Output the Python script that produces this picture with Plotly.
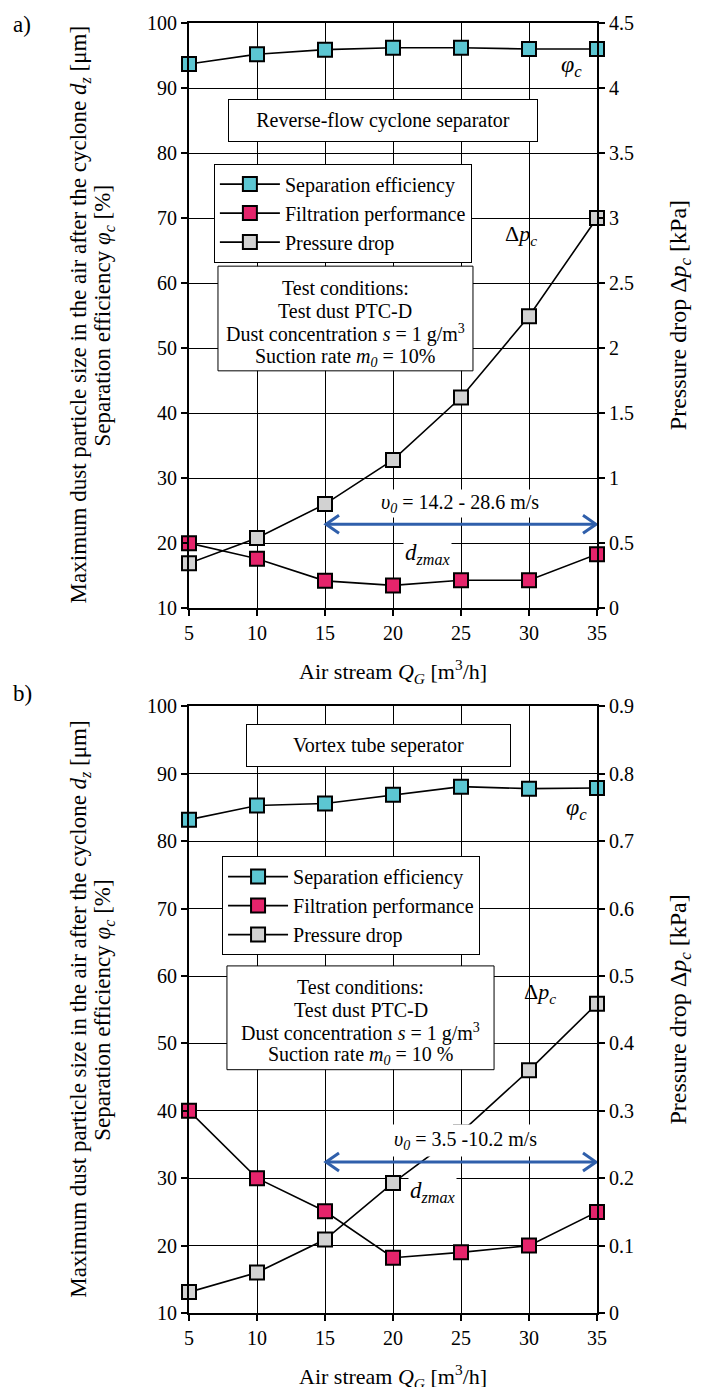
import plotly.graph_objects as go

# ---------------- data ----------------
air_stream = [5, 10, 15, 20, 25, 30, 35]

# panel a) reverse-flow cyclone separator
sep_eff_a = [93.7, 95.2, 95.9, 96.2, 96.2, 96.0, 96.0]
filt_perf_a = [20.0, 17.6, 14.2, 13.5, 14.3, 14.3, 18.3]
press_drop_a = [0.345, 0.54, 0.80, 1.14, 1.62, 2.245, 3.0]

# panel b) vortex tube separator
sep_eff_b = [83.2, 85.3, 85.6, 86.9, 88.1, 87.8, 87.9]
filt_perf_b = [40.0, 30.0, 25.1, 18.2, 19.0, 20.0, 25.0]
press_drop_b = [0.031, 0.060, 0.109, 0.193, 0.268, 0.360, 0.459]

series_names = ["Separation efficiency", "Filtration performance", "Pressure drop"]
series_colors = ["#5cc6d2", "#e5246b", "#d2d2d2"]

left_ticks = list(range(10, 101, 10))

conditions_a = ["Test conditions:", "Test dust PTC-D",
                "Dust concentration <i>s</i> = 1 g/m<sup>3</sup>",
                "Suction rate <i>m<sub>0</sub></i> = 10%"]
conditions_b = ["Test conditions:", "Test dust PTC-D",
                "Dust concentration <i>s</i> = 1 g/m<sup>3</sup>",
                "Suction rate <i>m<sub>0</sub></i> = 10 %"]

FONT = "Times New Roman, Liberation Serif, DejaVu Serif, serif"
BLUE = "#2f5fab"

fig = go.Figure()


def add_panel(sep, filt, press, xa, yl, yr, legend, grp):
    vals = [(sep, yl), (filt, yl), (press, yr)]
    for i, (v, ya) in enumerate(vals):
        fig.add_trace(go.Scatter(
            x=air_stream, y=v, name=series_names[i], mode="lines+markers",
            xaxis=xa, yaxis=ya, legend=legend, legendgroup=grp + str(i),
            line=dict(color="black", width=1.6),
            marker=dict(symbol="square", size=14, color=series_colors[i],
                        line=dict(color="black", width=2)),
            cliponaxis=False,
        ))


add_panel(sep_eff_a, filt_perf_a, press_drop_a, "x", "y", "y2", "legend", "a")
add_panel(sep_eff_b, filt_perf_b, press_drop_b, "x2", "y3", "y4", "legend2", "b")

tickfont = dict(family=FONT, size=20, color="black")

xcommon = dict(range=[5, 35], tickvals=air_stream, showgrid=True, gridcolor="black",
               gridwidth=1, showline=True, linecolor="black", linewidth=2, mirror=True,
               ticks="outside", ticklen=6, tickwidth=2, tickcolor="black",
               tickfont=tickfont, zeroline=False, fixedrange=True)
yleft = dict(range=[10, 100], tickvals=left_ticks, showgrid=True, gridcolor="black",
             gridwidth=1, showline=True, linecolor="black", linewidth=2,
             ticks="outside", ticklen=6, tickwidth=2, tickcolor="black",
             tickfont=tickfont, zeroline=False, fixedrange=True)
yright = dict(side="right", showgrid=False, showline=True, linecolor="black", linewidth=2,
              ticks="outside", ticklen=6, tickwidth=2, tickcolor="black",
              tickfont=tickfont, zeroline=False, fixedrange=True)

legend_style = dict(font=dict(family=FONT, size=20, color="black"), bgcolor="white",
                    bordercolor="black", borderwidth=1, tracegroupgap=0,
                    itemwidth=60,
                    xanchor="left", yanchor="top", itemclick=False)

fig.update_layout(
    width=702, height=1387,
    margin=dict(l=189, r=105, t=20, b=74),
    paper_bgcolor="white", plot_bgcolor="white",
    font=dict(family=FONT, size=20, color="black"),
    showlegend=True,
    xaxis=dict(domain=[0, 1], anchor="y", **xcommon),
    yaxis=dict(domain=[0.5464, 1], anchor="x", **yleft),
    yaxis2=dict(overlaying="y", anchor="x", range=[0, 4.5], dtick=0.5, **yright),
    xaxis2=dict(domain=[0, 1], anchor="y3", **xcommon),
    yaxis3=dict(domain=[0, 0.4702], anchor="x2", **yleft),
    yaxis4=dict(overlaying="y3", anchor="x2", range=[0, 0.9], dtick=0.1, **yright),
    legend=dict(x=0.061, y=0.8910, **legend_style),
    legend2=dict(x=0.081, y=0.3542, **legend_style),
)

ann = []
shapes = []


def txt(text, x, y, xref, yref, size=20, angle=0, **kw):
    ann.append(dict(text=text, x=x, y=y, xref=xref, yref=yref, showarrow=False,
                    textangle=angle, font=dict(family=FONT, size=size, color="black"),
                    xanchor="center", yanchor="middle", **kw))


ytitle1 = "Maximum dust particle size in the air after the cyclone <i>d<sub>z</sub></i> [μm]"
ytitle2 = "Separation efficiency <i>φ<sub>c</sub></i> [%]"
rtitle = "Pressure drop Δ<i>p<sub>c</sub></i> [kPa]"
xtitle = "Air stream <i>Q<sub>G</sub></i> [m<sup>3</sup>/h]"

for yc in (0.7734, 0.2351):
    txt(ytitle1, -0.267, yc, "paper", "paper", size=23, angle=-90)
    txt(ytitle2, -0.208, yc, "paper", "paper", size=23, angle=-90)
    txt(rtitle, 1.203, yc, "paper", "paper", size=24, angle=-90)
txt(xtitle, 0.5, 0.4973, "paper", "paper", size=22)
txt(xtitle, 0.5, -0.0495, "paper", "paper", size=22)
txt("a)", -0.409, 0.9985, "paper", "paper", size=23)
txt("b)", -0.409, 0.4803, "paper", "paper", size=23)

box = dict(bgcolor="white", bordercolor="black", borderwidth=1)


def cond_box(lines, xr, yr_, x0, x1, y0, y1, ys):
    shapes.append(dict(type="rect", xref=xr, yref=yr_, x0=x0, x1=x1, y0=y0, y1=y1,
                       fillcolor="white", line=dict(color="black", width=1), layer="above"))
    for t, yy in zip(lines, ys):
        txt(t, (x0 + x1) / 2, yy, xr, yr_, size=20)


# panel a
txt("Reverse-flow cyclone separator", 19.3, 85.0, "x", "y", size=20,
    width=300, height=33, borderpad=4, **box)
cond_box(conditions_a, "x", "y", 7.13, 25.88, 46.5, 62.6, [59.2, 55.7, 52.2, 48.6])
txt("<i>φ<sub>c</sub></i>", 33.1, 93.4, "x", "y", size=24)
txt("Δ<i>p<sub>c</sub></i>", 29.4, 67.4, "x", "y", size=22)
txt("<i>υ<sub>0</sub></i> = 14.2 - 28.6 m/s", 24.9, 26.1, "x", "y", size=20,
    bgcolor="white", borderpad=1)
txt("<i>d<sub>zmax</sub></i>", 22.5, 18.3, "x", "y", size=23, bgcolor="white", borderpad=1)

# panel b
txt("Vortex tube seperator", 18.9, 94.2, "x2", "y3", size=20,
    width=255, height=33, borderpad=4, **box)
cond_box(conditions_b, "x2", "y3", 7.79, 27.43, 46.1, 61.5, [58.4, 55.0, 51.6, 48.2])
txt("<i>φ<sub>c</sub></i>", 33.5, 84.8, "x2", "y3", size=24)
txt("Δ<i>p<sub>c</sub></i>", 30.8, 57.5, "x2", "y3", size=22)
txt("<i>υ<sub>0</sub></i> = 3.5 -10.2 m/s", 25.3, 35.6, "x2", "y3", size=20,
    bgcolor="white", borderpad=3)
txt("<i>d<sub>zmax</sub></i>", 22.9, 27.9, "x2", "y3", size=23, bgcolor="white", borderpad=1)

fig.update_layout(annotations=ann)

# double-headed range arrows (air velocity range)
for xr, yr_, yv in (("x", "y", 22.9), ("x2", "y3", 32.4)):
    shapes.append(dict(type="line", xref=xr, yref=yr_, x0=15.2, x1=34.8, y0=yv, y1=yv,
                       line=dict(color=BLUE, width=3)))
    for xa, sgn in ((15, 1), (35, -1)):
        shapes.append(dict(type="path", xref=xr, yref=yr_, xsizemode="pixel",
                           ysizemode="pixel", xanchor=xa, yanchor=yv,
                           path=f"M {sgn*14},9 L {sgn*1},0 L {sgn*14},-9",
                           line=dict(color=BLUE, width=3)))
fig.update_layout(shapes=shapes)

fig.write_html("out.html", config={"displayModeBar": False},
               post_script="document.body.style.margin='0';"
                           "document.body.style.overflow='hidden';")
